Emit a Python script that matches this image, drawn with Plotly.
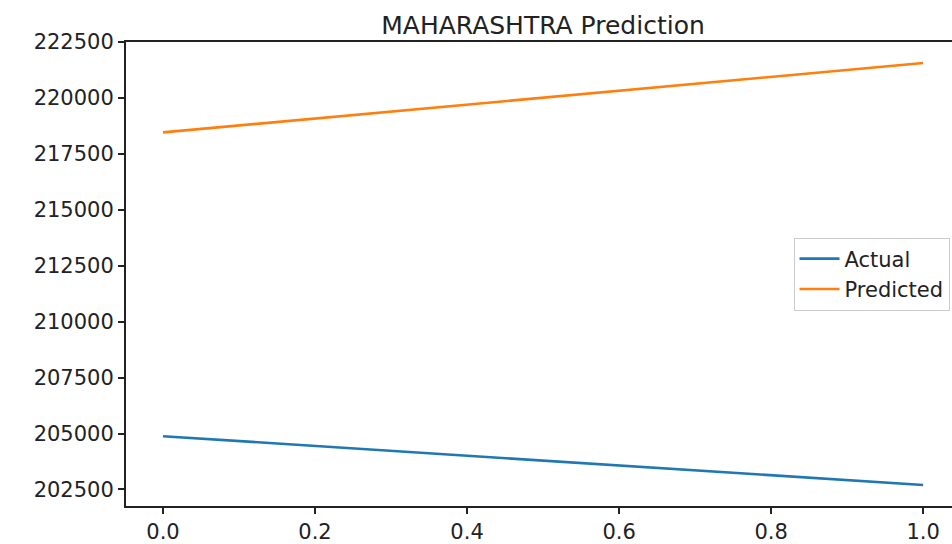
import plotly.graph_objects as go

# Forecast comparison for Maharashtra
steps = [0.0, 1.0]
actual = [204880, 202700]
predicted = [218460, 221560]

x_ticks = [0.0, 0.2, 0.4, 0.6, 0.8, 1.0]
y_ticks = [202500, 205000, 207500, 210000, 212500, 215000, 217500, 220000, 222500]

FONT = "DejaVu Sans"

fig = go.Figure()
fig.add_trace(go.Scatter(x=steps, y=actual, mode="lines", name="Actual",
                         line=dict(color="#1f77b4", width=2.6)))
fig.add_trace(go.Scatter(x=steps, y=predicted, mode="lines", name="Predicted",
                         line=dict(color="#ff7f0e", width=2.6)))

fig.update_layout(
    width=952, height=544,
    margin=dict(l=126, r=0, t=42, b=35),
    paper_bgcolor="white", plot_bgcolor="white",
    font=dict(family=FONT, size=21, color="#222222"),
    title=dict(text="MAHARASHTRA Prediction", x=543 / 952, xanchor="center",
               y=1 - 25 / 544, yanchor="middle",
               font=dict(family=FONT, size=25, color="#222222")),
    showlegend=True,
    legend=dict(x=0.997, xanchor="right", y=0.5, yanchor="middle",
                bgcolor="white", bordercolor="#cccccc", borderwidth=1,
                font=dict(family=FONT, size=21, color="#222222"),
                itemwidth=40),
)

fig.update_xaxes(
    range=[-0.0487, 1.038], tickvals=x_ticks, tickformat=".1f",
    showgrid=False, zeroline=False,
    showline=True, linecolor="#222222", linewidth=2, mirror=True,
    ticks="outside", ticklen=6, tickwidth=2, tickcolor="#222222",
)
fig.update_yaxes(
    range=[201760, 222500], tickvals=y_ticks, tickformat="d",
    showgrid=False, zeroline=False,
    showline=True, linecolor="#222222", linewidth=2, mirror=False,
    ticks="outside", ticklen=6, tickwidth=2, tickcolor="#222222",
)

fig.write_html("out.html")
